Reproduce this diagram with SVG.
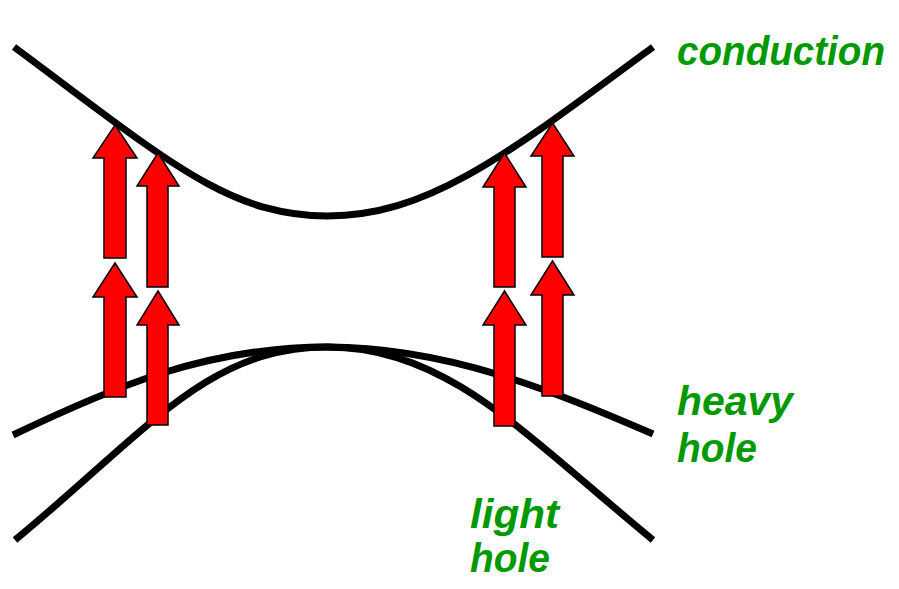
<svg xmlns="http://www.w3.org/2000/svg" width="899" height="589" viewBox="0 0 899 589">
  <style>
    .band { fill: none; stroke: #000; stroke-width: 7; stroke-linecap: butt; }
    .arrow { fill: #ff0000; stroke: #000; stroke-width: 1.5; stroke-linejoin: miter; }
    .lbl { font-family: "Liberation Sans", Arial, sans-serif; font-weight: bold; font-style: italic; font-size: 40px; fill: #009900; }
  </style>
  <rect width="899" height="589" fill="#fff"/>
  <g id="bands">
    <path id="conduction-band" class="band" d="M14,47 C164,158 227,216 327,216 C427,216 503,158 653,47"/>
    <path id="heavy-hole-band" class="band" d="M13,435 C113,387 207,347 327,347 C447,347 553,391 653,434"/>
    <path id="light-hole-band" class="band" d="M15,540 C145,433 207,347 327,347 C447,347 523,433 653,540"/>
  </g>
  <g id="arrows">
    <g id="arrow-a1"><polygon class="arrow" points="115,125 137,158 126,158 126,258 104,258 104,158 93,158"/></g>
    <g id="arrow-a2"><polygon class="arrow" points="115,263 137,297 126,297 126,397 104,397 104,297 93,297"/></g>
    <g id="arrow-b1"><polygon class="arrow" points="158,153 179,186 168,186 168,287 147,287 147,186 137,186"/></g>
    <g id="arrow-b2"><polygon class="arrow" points="158,291 179,325 168,325 168,425 147,425 147,325 137,325"/></g>
    <g id="arrow-c1"><polygon class="arrow" points="504.5,153 526,187 515,187 515,287 494,287 494,187 483,187"/></g>
    <g id="arrow-c2"><polygon class="arrow" points="504.5,291 526,325 515,325 515,426 494,426 494,325 483,325"/></g>
    <g id="arrow-d1"><polygon class="arrow" points="552.5,123 574,156 563,156 563,257 542,257 542,156 531,156"/></g>
    <g id="arrow-d2"><polygon class="arrow" points="552.5,261 574,295 563,295 563,396 542,396 542,295 531,295"/></g>
  </g>
  <g id="labels">
    <text class="lbl" x="677" y="65" textLength="208" lengthAdjust="spacingAndGlyphs">conduction</text>
    <text class="lbl" x="677" y="415" textLength="116" lengthAdjust="spacingAndGlyphs">heavy</text>
    <text class="lbl" x="677" y="462" textLength="80" lengthAdjust="spacingAndGlyphs">hole</text>
    <text class="lbl" x="470" y="528" textLength="89" lengthAdjust="spacingAndGlyphs">light</text>
    <text class="lbl" x="470" y="572" textLength="80" lengthAdjust="spacingAndGlyphs">hole</text>
  </g>
</svg>
